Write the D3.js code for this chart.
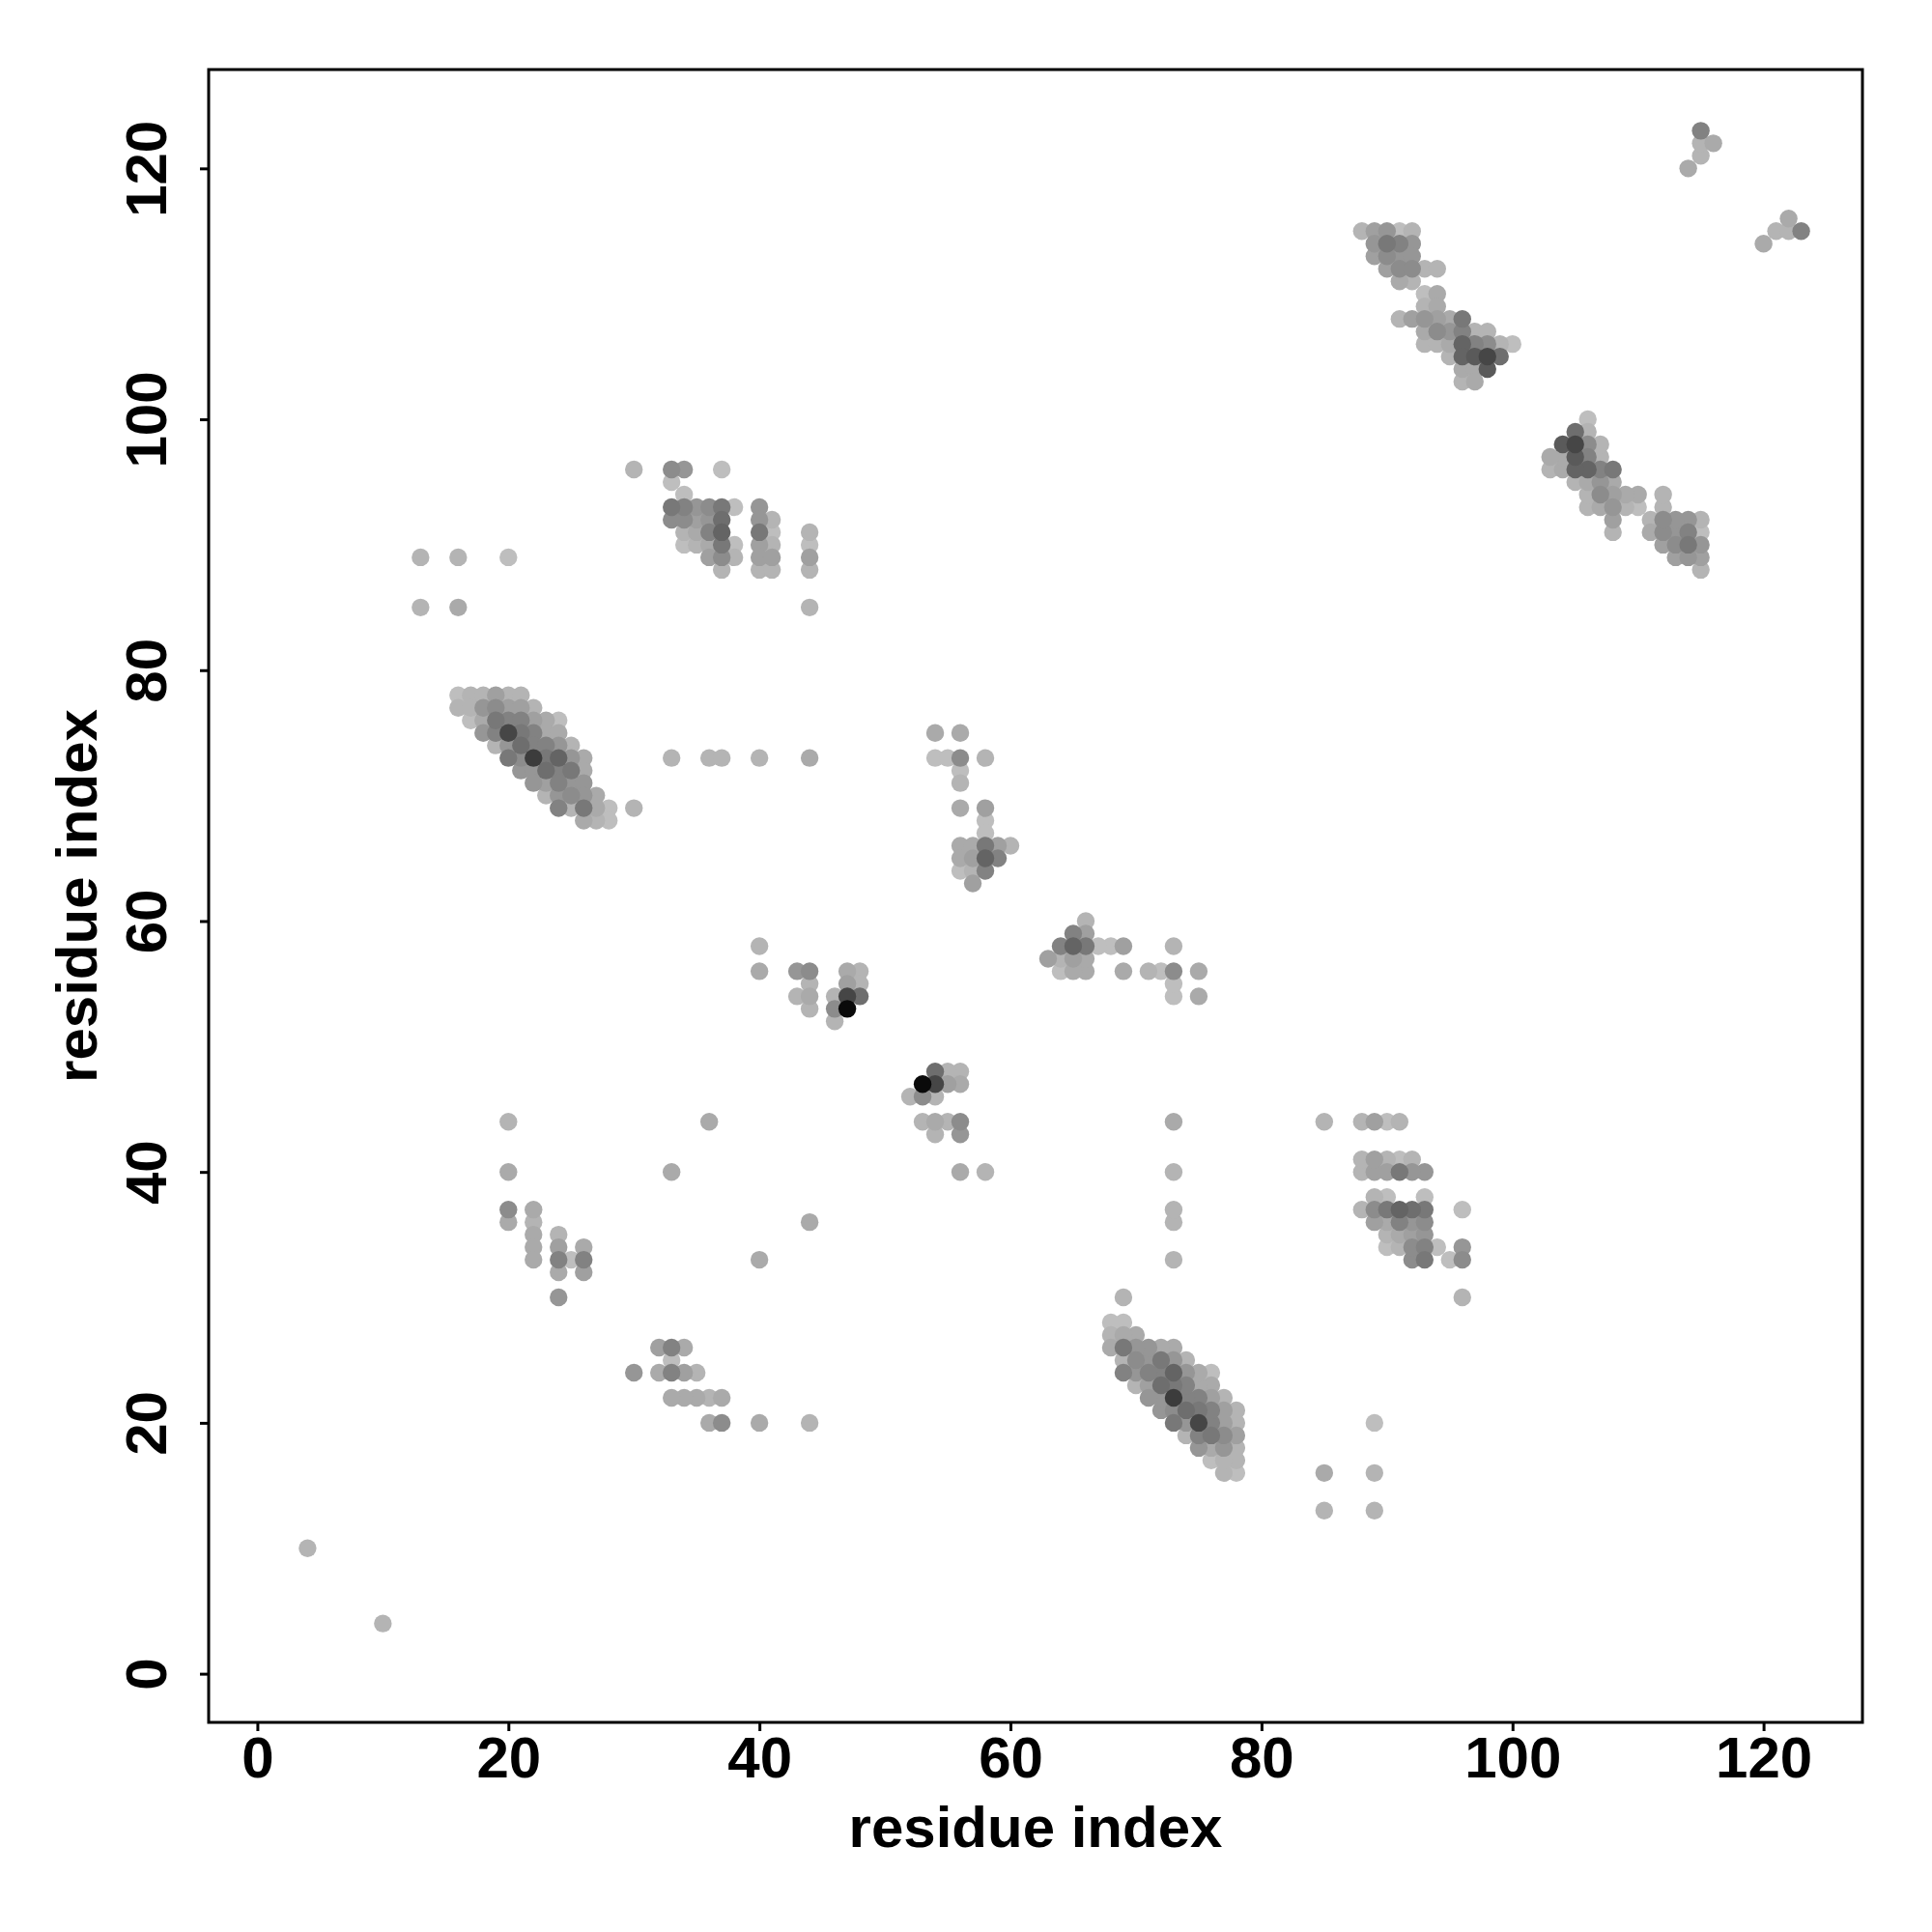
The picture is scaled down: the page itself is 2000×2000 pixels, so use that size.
<!DOCTYPE html>
<html>
<head>
<meta charset="utf-8">
<script src="https://cdn.jsdelivr.net/npm/d3@7"></script>
<style>
  html, body { margin: 0; padding: 0; background: #ffffff; }
  svg { display: block; }
  text { font-family: "Liberation Sans", Arial, Helvetica, sans-serif; font-weight: bold; }
</style>
</head>
<body>
<script>
// ---- DATA: contacts (residue i, residue j, contact level 0..19); map is symmetric, upper half listed ----
const axisTicks = [0, 20, 40, 60, 80, 100, 120];
const axisTitleX = "residue index";
const axisTitleY = "residue index";

const contactsHelixA = [
  [16,78,0],[17,78,1],[18,78,1],[19,78,3],[20,78,1],[21,78,1],
  [16,77,1],[17,77,1],[18,77,4],[19,77,5],[20,77,3],[21,77,3],[22,77,1],
  [17,76,0],[18,76,2],[19,76,7],[20,76,6],[21,76,6],[22,76,3],[23,76,2],[24,76,0],
  [18,75,4],[19,75,6],[20,75,12],[21,75,7],[22,75,6],[23,75,2],[24,75,2],
  [19,74,1],[20,74,4],[21,74,8],[22,74,6],[23,74,6],[24,74,4],[25,74,1],
  [20,73,7],[21,73,5],[22,73,13],[23,73,7],[24,73,9],[25,73,4],[26,73,2],
  [21,72,4],[22,72,4],[23,72,8],[24,72,6],[25,72,7],[26,72,2],
  [22,71,4],[23,71,3],[24,71,6],[25,71,4],[26,71,4],
  [23,70,1],[24,70,4],[25,70,5],[26,70,4],[27,70,2],
  [24,69,6],[25,69,1],[26,69,7],[27,69,2],[28,69,0],[30,69,1],
  [26,68,2],[27,68,1],[28,68,0]
];

const contactsSheetB = [
  [30,96,1],[33,96,5],[34,96,4],[37,96,0],[33,95,0],[34,94,0],
  [33,93,7],[34,93,6],[35,93,4],[36,93,5],[37,93,7],[38,93,0],[40,93,4],
  [33,92,5],[34,92,5],[35,92,3],[36,92,4],[37,92,8],[40,92,4],[41,92,1],
  [34,91,1],[35,91,2],[36,91,6],[37,91,9],[40,91,7],[41,91,0],[44,91,1],
  [34,90,0],[35,90,1],[36,90,2],[37,90,7],[38,90,0],[40,90,3],[41,90,1],[44,90,0],
  [36,89,3],[37,89,5],[38,89,1],[40,89,3],[41,89,3],[44,89,3],
  [37,88,1],[40,88,1],[41,88,1],[44,88,1],
  [44,85,1],
  [33,73,1],[36,73,1],[37,73,1],[40,73,1],[44,73,2]
];

const contactsSparse = [
  [4,10,1],
  [13,89,1],[16,89,1],[20,89,0],[13,85,1],[16,85,2],
  [20,44,1],[20,40,2],[20,37,5],[20,36,2],
  [22,37,2],[22,36,1],[22,35,2],[22,34,2],[22,33,2],
  [24,35,1],[24,34,3],[24,33,6],[24,32,2],[24,30,4],
  [25,33,0],
  [26,34,2],[26,33,6],[26,32,3],
  [33,40,2],[36,44,2]
];

const contactsLoopC = [
  [40,58,1],[40,56,2],[43,56,4],[44,56,5],[44,55,1],[43,54,1],[44,54,2],[44,53,1],
  [47,56,2],[48,56,1],[47,55,3],[48,55,1],[46,54,1],[47,54,12],[48,54,8],
  [46,53,5],[47,53,18],[46,52,1]
];

const contactsLoopD = [
  [54,75,2],[56,75,2],
  [54,73,0],[55,73,0],[56,73,5],[58,73,1],
  [56,72,0],[56,71,1],
  [56,69,2],[58,69,3],
  [58,68,0],[58,67,0],
  [56,66,2],[57,66,2],[58,66,7],[59,66,3],[60,66,1],
  [56,65,2],[57,65,3],[58,65,9],[59,65,6],
  [56,64,0],[57,64,1],[58,64,6],
  [57,63,3]
];

const contactsSheetE = [
  [88,115,1],[89,115,3],[90,115,4],[91,115,0],[92,115,1],
  [89,114,4],[90,114,7],[91,114,6],[92,114,4],
  [89,113,3],[90,113,5],[91,113,4],[92,113,4],
  [90,112,3],[91,112,5],[92,112,5],[93,112,1],[94,112,1],
  [91,111,2],[92,111,1],
  [93,110,0],[94,110,2],
  [93,109,1],[94,109,2],
  [91,108,1],[92,108,3],[93,108,4],[94,108,3],[95,108,2],[96,108,7],
  [93,107,2],[94,107,5],[95,107,4],[96,107,6],[97,107,1],[98,107,1],
  [93,106,1],[94,106,1],[95,106,2],[96,106,9],[97,106,6],[98,106,5],[99,106,1],[100,106,0],
  [95,105,1],[96,105,9],[97,105,10],[98,105,12],[99,105,8],
  [96,104,2],[97,104,2],[98,104,10],
  [96,103,1],[97,103,2]
];

const contactsTail = [
  [114,120,2],[115,121,1],[115,122,1],[116,122,2],[115,123,6]
];

// ---- CHART ----
const W = 2000, H = 2000;
const plot = { left: 216, right: 1928, top: 72, bottom: 1783 };

const upper = [].concat(contactsHelixA, contactsSheetB, contactsSparse,
                        contactsLoopC, contactsLoopD, contactsSheetE, contactsTail);
// symmetric contact map: each pair (i,j) also appears as (j,i)
const points = upper.flatMap(d => [
  { i: d[0], j: d[1], level: d[2] },
  { i: d[1], j: d[0], level: d[2] }
]).sort((a, b) => a.level - b.level);

const dataMin = 1, dataMax = 123, pad = 0.04 * (dataMax - dataMin);
const x = d3.scaleLinear().domain([dataMin - pad, dataMax + pad]).range([plot.left, plot.right]);
const y = d3.scaleLinear().domain([dataMin - pad, dataMax + pad]).range([plot.bottom, plot.top]);
const grayScale = d3.scaleLinear().domain([0, 19]).range([190, 0]);
const fillOf = L => { const g = Math.round(grayScale(L)); return `rgb(${g},${g},${g})`; };

const svg = d3.select("body").append("svg")
  .attr("width", W).attr("height", H)
  .attr("viewBox", `0 0 ${W} ${H}`);

svg.append("rect").attr("width", W).attr("height", H).attr("fill", "#ffffff");

svg.append("g").selectAll("circle")
  .data(points)
  .join("circle")
  .attr("cx", d => x(d.i))
  .attr("cy", d => y(d.j))
  .attr("r", 9.2)
  .attr("fill", d => fillOf(d.level));

// frame
svg.append("rect")
  .attr("x", plot.left).attr("y", plot.top)
  .attr("width", plot.right - plot.left).attr("height", plot.bottom - plot.top)
  .attr("fill", "none").attr("stroke", "#000").attr("stroke-width", 3);

// x axis
const gx = svg.append("g").attr("transform", `translate(0,${plot.bottom})`)
  .call(d3.axisBottom(x).tickValues(axisTicks).tickSize(9).tickFormat(d3.format("d")));
gx.select(".domain").remove();
gx.selectAll(".tick line").attr("stroke", "#000").attr("stroke-width", 3);
gx.selectAll(".tick text")
  .attr("y", 57).attr("dy", null)
  .attr("fill", "#000")
  .style("font-size", "60px");

// y axis
const gy = svg.append("g").attr("transform", `translate(${plot.left},0)`)
  .call(d3.axisLeft(y).tickValues(axisTicks).tickSize(9).tickFormat(d3.format("d")));
gy.select(".domain").remove();
gy.selectAll(".tick line").attr("stroke", "#000").attr("stroke-width", 3);
gy.selectAll(".tick text")
  .attr("x", null).attr("dy", null)
  .attr("transform", "translate(-44,0) rotate(-90)")
  .attr("text-anchor", "middle")
  .attr("fill", "#000")
  .style("font-size", "60px");

// axis titles
svg.append("text")
  .attr("x", (plot.left + plot.right) / 2).attr("y", 1912)
  .attr("text-anchor", "middle")
  .style("font-size", "60px")
  .text(axisTitleX);

svg.append("text")
  .attr("transform", `translate(100,${(plot.top + plot.bottom) / 2}) rotate(-90)`)
  .attr("text-anchor", "middle")
  .style("font-size", "60px")
  .text(axisTitleY);
</script>
</body>
</html>
